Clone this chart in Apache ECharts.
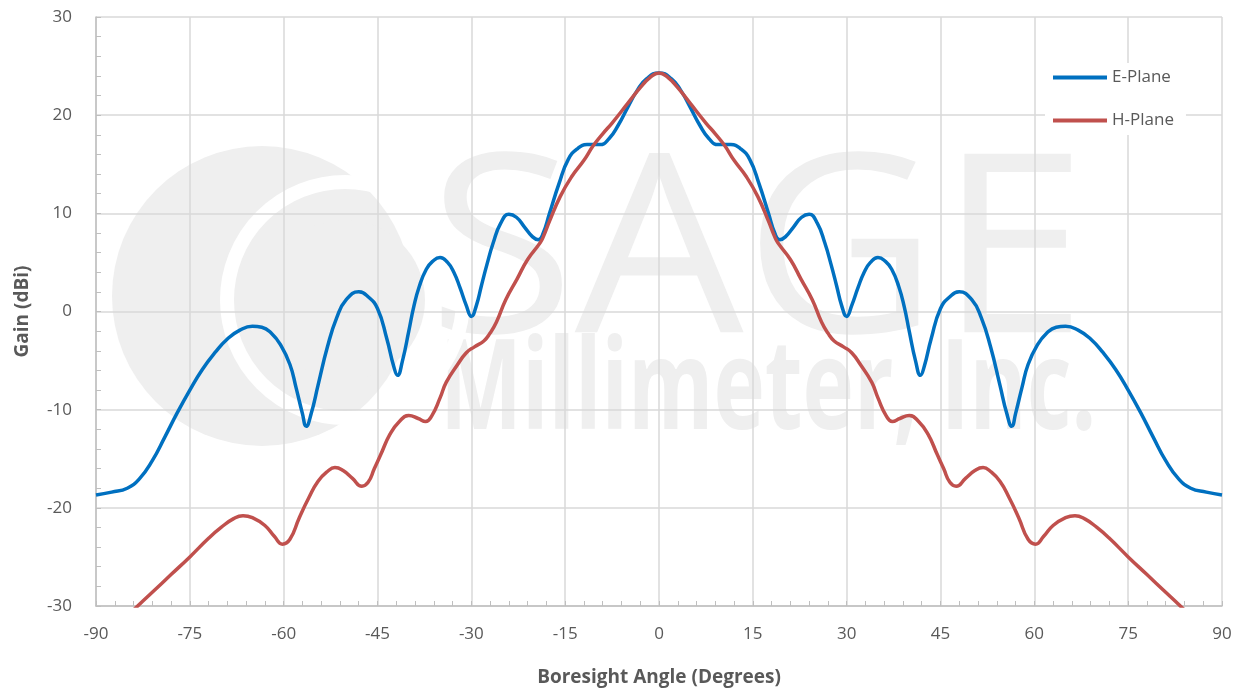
<!DOCTYPE html>
<html>
<head>
<meta charset="utf-8">
<script src="https://cdn.jsdelivr.net/npm/echarts@6/dist/echarts.min.js"></script>
<style>
  html, body { margin: 0; padding: 0; background: #fff; }
  #chart { width: 1244px; height: 692px; }
</style>
</head>
<body>
<div id="chart"></div>
<script>
// E-Plane (blue) angle / gain
const eAngle = [-90, -87.5, -85, -83, -81, -79, -77, -75, -73, -71, -69, -67, -65, -63.5, -62, -60.5, -59, -58, -57, -56.4, -55.6, -54.5, -53, -51.5, -50, -48, -46.5, -45, -43.5, -42.4, -41.8, -41, -40, -39.2, -38.3, -37.2, -36.2, -35, -33.8, -32.8, -31.8, -30.8, -30, -29.2, -28.4, -27.5, -26.5, -25.3, -24, -22.8, -21.5, -20.2, -19.3, -18.5, -17.5, -16, -14.5, -13, -11.5, -9.5, -8, -6.5, -5, -3.5, -2, 0,
  2, 3.5, 5, 6.5, 8, 9.5, 11.5, 13, 14.5, 16, 17.5, 18.5, 19.3, 20.2, 21.5, 22.8, 24, 25.3, 26.5, 27.5, 28.4, 29.2, 30, 30.8, 31.8, 32.8, 33.8, 35, 36.2, 37.2, 38.3, 39.2, 40, 41, 41.8, 42.4, 43.5, 45, 46.5, 48, 50, 51.5, 53, 54.5, 55.6, 56.4, 57, 58, 59, 60.5, 62, 63.5, 65, 67, 69, 71, 73, 75, 77, 79, 81, 83, 85, 87.5, 90];
const eGain = [-18.7, -18.4, -18.0, -17.0, -15.2, -12.8, -10.3, -8.0, -5.9, -4.2, -2.8, -1.9, -1.5, -1.6, -2.2, -3.4, -5.4, -7.8, -10.4, -11.7, -10.4, -7.5, -3.6, -0.6, 1.2, 2.0, 1.5, 0.3, -2.8, -5.6, -6.5, -5.0, -2.0, 0.5, 2.6, 4.3, 5.1, 5.5, 5.0, 4.0, 2.4, 0.6, -0.5, 0.6, 2.6, 4.8, 7.0, 9.0, 9.9, 9.6, 8.6, 7.6, 7.3, 8.0, 10.0, 13.0, 15.5, 16.6, 17.0, 17.0, 17.6, 19.0, 20.8, 22.5, 23.7, 24.3,
  23.7, 22.5, 20.8, 19.0, 17.6, 17.0, 17.0, 16.6, 15.5, 13.0, 10.0, 8.0, 7.3, 7.6, 8.6, 9.6, 9.9, 9.0, 7.0, 4.8, 2.6, 0.6, -0.5, 0.6, 2.4, 4.0, 5.0, 5.5, 5.1, 4.3, 2.6, 0.5, -2.0, -5.0, -6.5, -5.6, -2.8, 0.3, 1.5, 2.0, 1.2, -0.6, -3.6, -7.5, -10.4, -11.7, -10.4, -7.8, -5.4, -3.4, -2.2, -1.6, -1.5, -1.9, -2.8, -4.2, -5.9, -8.0, -10.3, -12.8, -15.2, -17.0, -18.0, -18.4, -18.7];

// H-Plane (red), runs below the -30 floor at both ends
const hAngle = [-90, -87, -84, -81, -78, -75, -72, -70, -68, -66.5, -65, -63, -61.5, -60.2, -59, -57.5, -56, -54.5, -53, -51.8, -50.5, -49, -47.5, -46.5, -45.5, -44.5, -43, -41.5, -40, -38.5, -37.3, -36.3, -35, -34, -32.3, -30.8, -29.5, -28, -27, -26, -24.5, -22.7, -21, -19, -18.5, -17.5, -15.8, -14, -12, -10.5, -9, -7.5, -5, -3, -1.5, 0,
  1.5, 3, 5, 7.5, 9, 10.5, 12, 14, 15.8, 17.5, 18.5, 19, 21, 22.7, 24.5, 26, 27, 28, 29.5, 30.8, 32.3, 34, 35, 36.3, 37.3, 38.5, 40, 41.5, 43, 44.5, 45.5, 46.5, 47.5, 49, 50.5, 51.8, 53, 54.5, 56, 57.5, 59, 60.2, 61.5, 63, 65, 66.5, 68, 70, 72, 75, 78, 81, 84, 87, 90];
const hGain = [-34.0, -32.2, -30.4, -28.6, -26.8, -25.0, -23.1, -22.0, -21.1, -20.8, -21.0, -21.8, -22.9, -23.7, -23.2, -21.0, -19.0, -17.3, -16.3, -15.9, -16.2, -17.0, -17.8, -17.4, -16.0, -14.6, -12.5, -11.2, -10.6, -10.9, -11.2, -10.6, -8.8, -7.2, -5.5, -4.2, -3.6, -3.0, -2.2, -1.1, 1.2, 3.3, 5.3, 7.0, 7.6, 9.2, 11.7, 13.7, 15.4, 16.9, 18.1, 19.2, 21.2, 22.8, 23.8, 24.3,
  23.8, 22.8, 21.2, 19.2, 18.1, 16.9, 15.4, 13.7, 11.7, 9.2, 7.6, 7.0, 5.3, 3.3, 1.2, -1.1, -2.2, -3.0, -3.6, -4.2, -5.5, -7.2, -8.8, -10.6, -11.2, -10.9, -10.6, -11.2, -12.5, -14.6, -16.0, -17.4, -17.8, -17.0, -16.2, -15.9, -16.3, -17.3, -19.0, -21.0, -23.2, -23.7, -22.9, -21.8, -21.0, -20.8, -21.1, -22.0, -23.1, -25.0, -26.8, -28.6, -30.4, -32.2, -34.0];

const xTicks = { min: -90, max: 90, step: 15 };
const yTicks = { min: -30, max: 30, step: 10 };

const ePairs = eAngle.map((a, i) => [a, eGain[i]]);
const hPairs = hAngle.map((a, i) => [a, hGain[i]]);

let myChart = echarts.init(document.getElementById('chart'));
const labelFont = "'Open Sans', 'Noto Sans', sans-serif";
const gridColor = '#d9d9d9';
const axisColor = '#bfbfbf';
const wm = '#efefef';

let option = {
  animation: false,
  backgroundColor: '#fff',
  textStyle: { fontFamily: labelFont },
  grid: { left: 96, right: 22, top: 17, bottom: 86, containLabel: false },
  // faint company watermark behind the plot
  graphic: [
    { type: 'circle', z: -10, shape: { cx: 262, cy: 296, r: 150 }, style: { fill: wm } },
    { type: 'circle', z: -9, shape: { cx: 345, cy: 300, r: 118 }, style: { fill: 'none', stroke: '#fff', lineWidth: 14 } },
    { type: 'circle', z: -9, shape: { cx: 345, cy: 300, r: 80 }, style: { fill: wm } },
    { type: 'text', z: -10, x: 428, y: 136, scaleX: 1.07, style: { text: 'SAGE', fill: wm, font: "250px 'Open Sans', sans-serif" } },
    { type: 'text', z: -10, x: 440, y: 330, scaleX: 0.69, style: { text: 'Millimeter, Inc.', fill: wm, font: "bold 126px 'Open Sans', sans-serif" } }
  ],
  legend: {
    orient: 'vertical',
    left: 1045,
    top: 63,
    icon: 'rect',
    itemWidth: 54,
    itemHeight: 4,
    itemGap: 26,
    padding: [6, 12, 6, 8],
    backgroundColor: '#fff',
    textStyle: { fontSize: 17, color: '#595959', fontFamily: labelFont },
    data: ['E-Plane', 'H-Plane']
  },
  xAxis: {
    type: 'value',
    min: xTicks.min,
    max: xTicks.max,
    interval: xTicks.step,
    name: 'Boresight Angle (Degrees)',
    nameLocation: 'middle',
    nameGap: 62,
    nameTextStyle: { fontSize: 19, fontWeight: 'bold', color: '#595959', fontFamily: labelFont },
    axisLine: { onZero: false, lineStyle: { color: axisColor, width: 1.5 } },
    axisTick: { show: true, inside: true, length: 5, lineStyle: { color: axisColor } },
    minorTick: { show: true, splitNumber: 5, length: 5, lineStyle: { color: axisColor } },
    axisLabel: { fontSize: 17, color: '#595959', margin: 20 },
    splitLine: { show: true, lineStyle: { color: gridColor, width: 1.5 } }
  },
  yAxis: {
    type: 'value',
    min: yTicks.min,
    max: yTicks.max,
    interval: yTicks.step,
    name: 'Gain (dBi)',
    nameLocation: 'middle',
    nameGap: 64,
    nameTextStyle: { fontSize: 19, fontWeight: 'bold', color: '#595959', fontFamily: labelFont },
    axisLine: { show: true, onZero: false, lineStyle: { color: axisColor, width: 1.5 } },
    axisTick: { show: true, inside: true, length: 5, lineStyle: { color: axisColor } },
    minorTick: { show: true, splitNumber: 5, length: 5, lineStyle: { color: axisColor } },
    axisLabel: { fontSize: 17, color: '#595959', margin: 24 },
    splitLine: { show: true, lineStyle: { color: gridColor, width: 1.5 } }
  },
  series: [
    {
      name: 'E-Plane',
      type: 'line',
      data: ePairs,
      smooth: 0.5,
      symbol: 'none',
      clip: true,
      lineStyle: { color: '#0070c0', width: 3.5 },
      itemStyle: { color: '#0070c0' }
    },
    {
      name: 'H-Plane',
      type: 'line',
      data: hPairs,
      smooth: 0.5,
      symbol: 'none',
      clip: true,
      lineStyle: { color: '#c0504d', width: 3.5 },
      itemStyle: { color: '#c0504d' }
    }
  ]
}
myChart.setOption(option)
</script>
</body>
</html>
